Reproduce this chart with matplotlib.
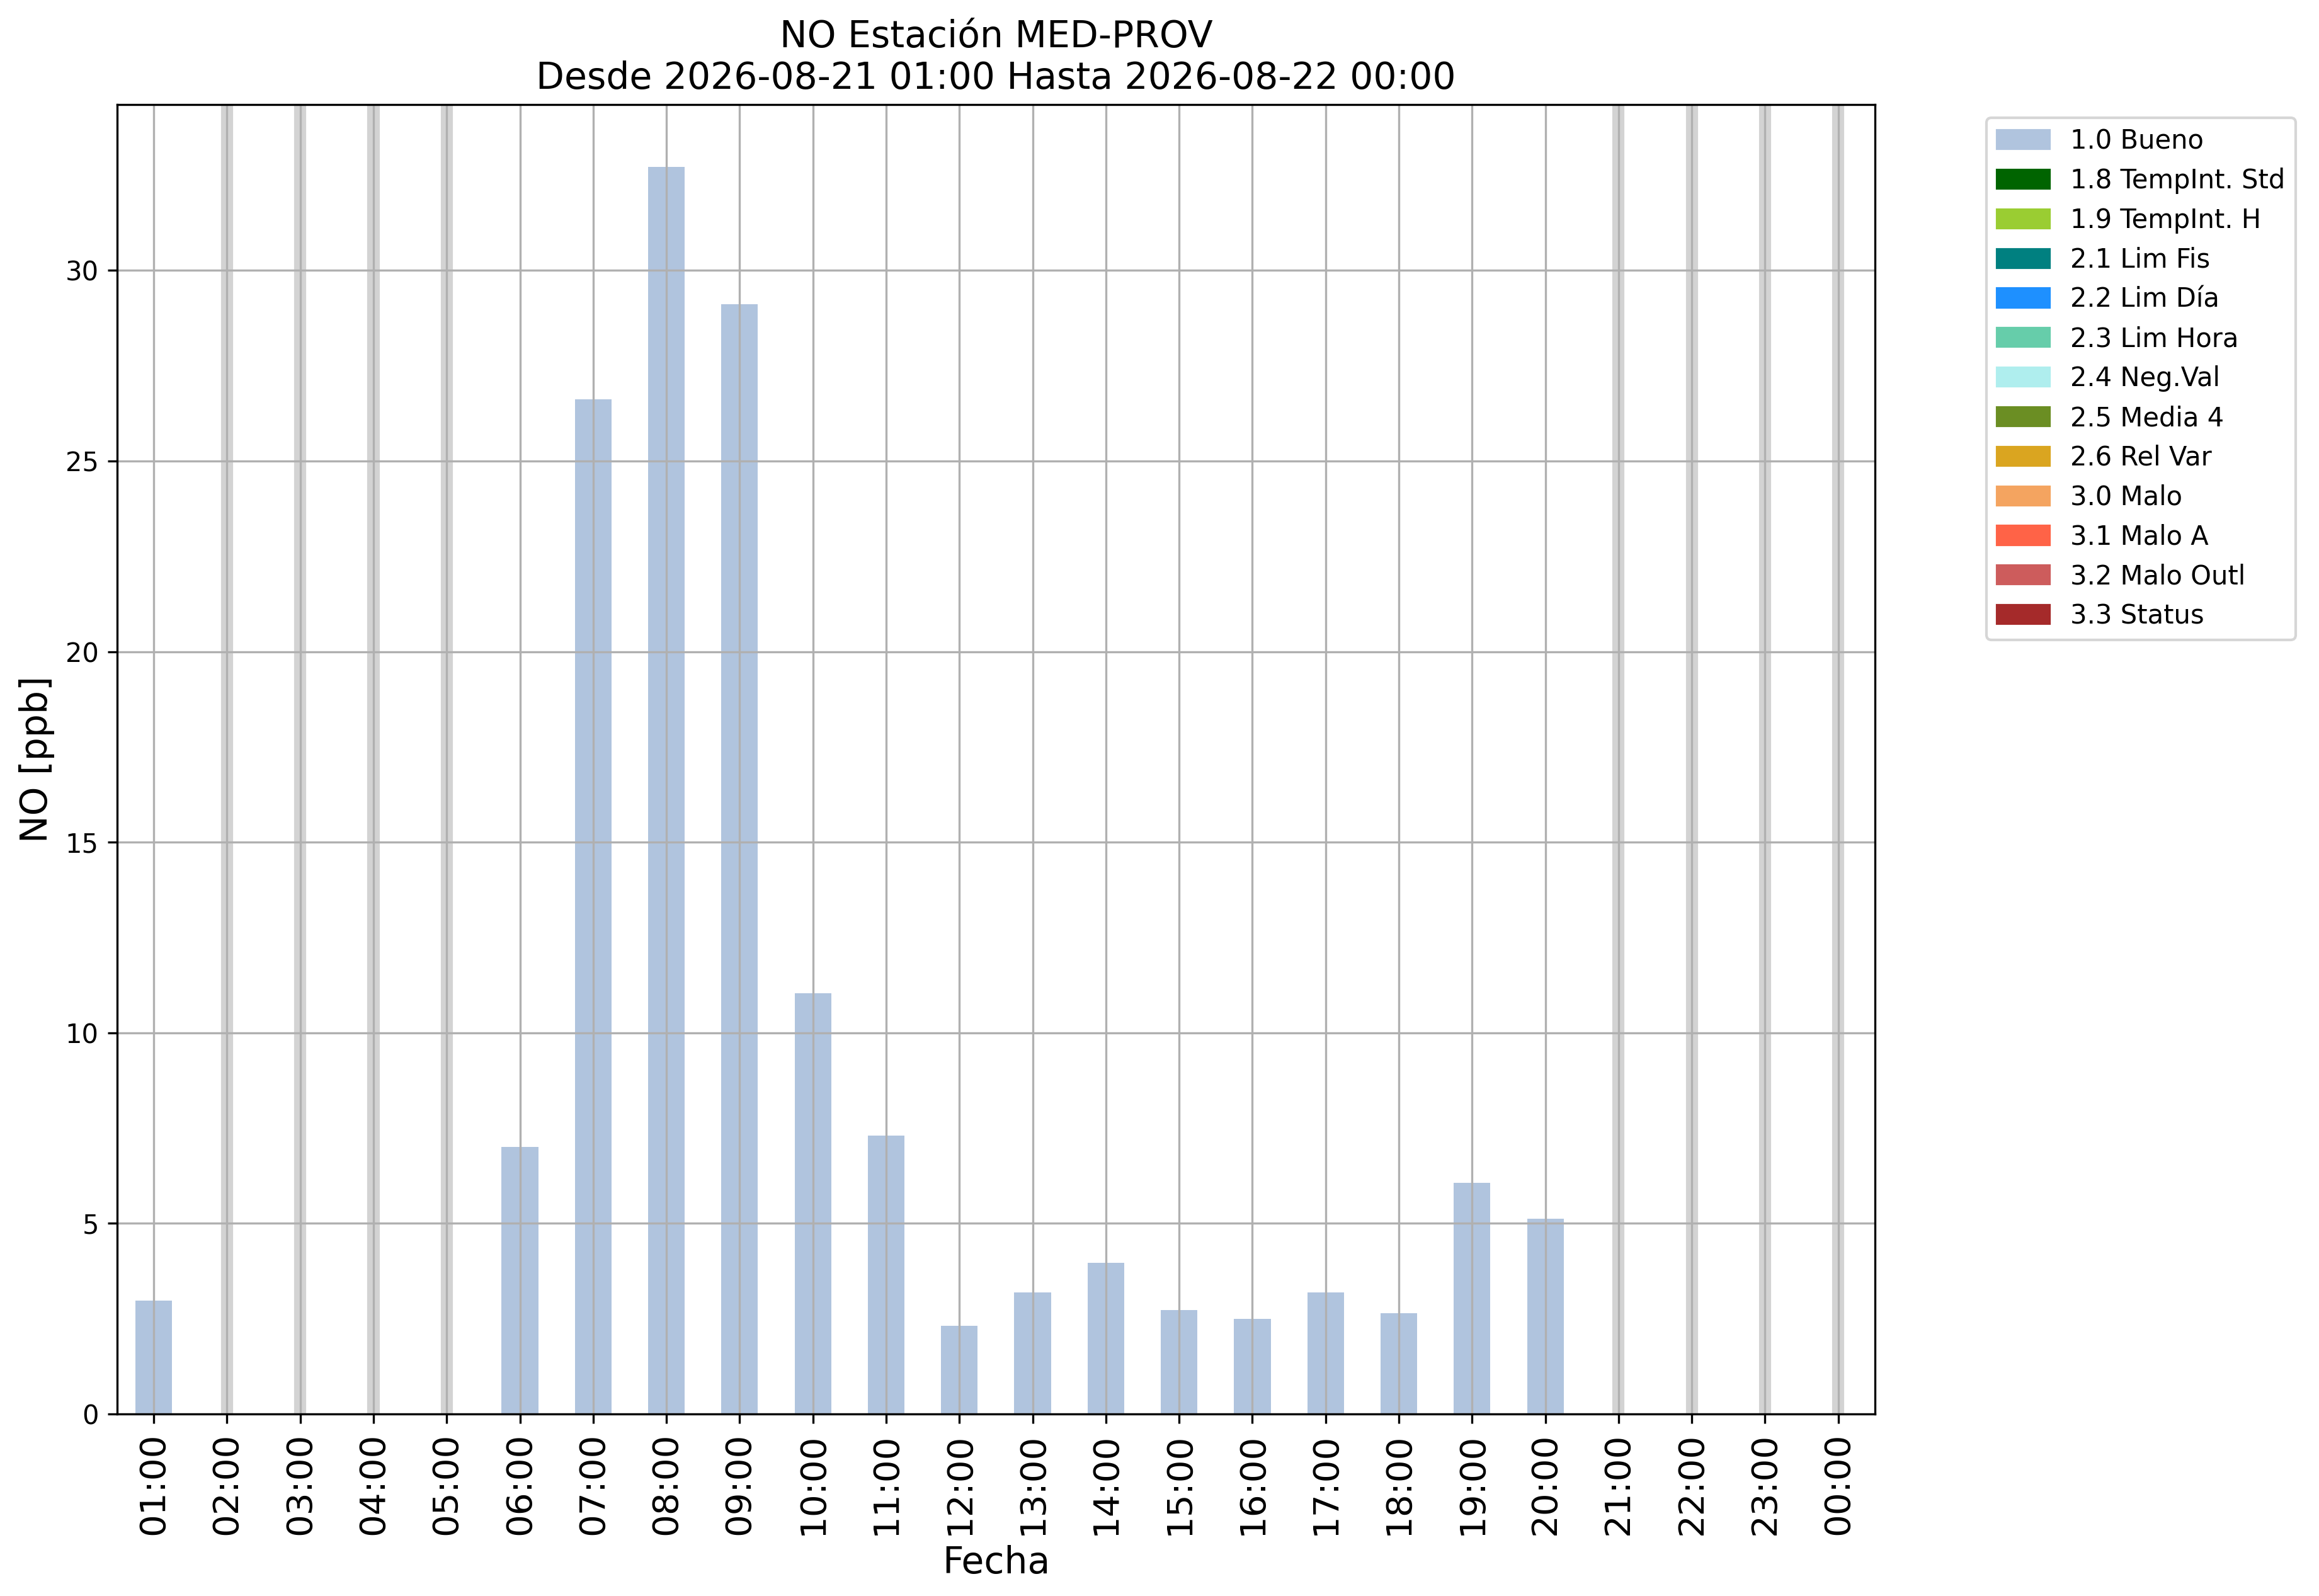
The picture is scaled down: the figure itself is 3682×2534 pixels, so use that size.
import numpy as np
import matplotlib
matplotlib.use("Agg")
import matplotlib.pyplot as plt
import matplotlib.patches as mpatches

################################################################################
# Data
################################################################################

horas = ["01:00", "02:00", "03:00", "04:00", "05:00", "06:00", "07:00", "08:00",
         "09:00", "10:00", "11:00", "12:00", "13:00", "14:00", "15:00", "16:00",
         "17:00", "18:00", "19:00", "20:00", "21:00", "22:00", "23:00", "00:00"]

# NO values [ppb], NaN = missing hour
valores_no = [2.97, np.nan, np.nan, np.nan, np.nan, 7.0, 26.62, 32.72,
              29.12, 11.04, 7.31, 2.31, 3.19, 3.96, 2.73, 2.49,
              3.19, 2.64, 6.06, 5.13, np.nan, np.nan, np.nan, np.nan]

etiquetas_flag = ["1.0 Bueno", "1.8 TempInt. Std", "1.9 TempInt. H", "2.1 Lim Fis",
                  "2.2 Lim Día", "2.3 Lim Hora", "2.4 Neg.Val", "2.5 Media 4",
                  "2.6 Rel Var", "3.0 Malo", "3.1 Malo A", "3.2 Malo Outl", "3.3 Status"]

colores_flag = ["lightsteelblue", "darkgreen", "yellowgreen", "teal", "dodgerblue",
                "mediumaquamarine", "paleturquoise", "olivedrab", "goldenrod",
                "sandybrown", "tomato", "indianred", "brown"]

################################################################################
# Plot
################################################################################

fig = plt.figure(figsize=(3682 / 300, 2534 / 300), dpi=300)
ax = fig.add_axes([0.0505, 0.1140, 0.7580, 0.8206])

x = np.arange(len(horas))
y = np.array(valores_no, dtype=float)

# missing hours marked with a thin gray band
for xi, yi in zip(x, y):
    if np.isnan(yi):
        ax.axvspan(xi - 0.065, xi + 0.065, color="lightgray", zorder=1)

ax.bar(x, np.nan_to_num(y), width=0.5, color=colores_flag[0], zorder=1)

ax.set_xlim(-0.5, len(horas) - 0.5)
ax.set_ylim(0, np.nanmax(y) * 1.05)
ax.set_xticks(x)
ax.set_xticklabels(horas, rotation=90, fontsize=13.5)
ax.tick_params(axis="y", labelsize=10)
ax.grid(True)

ax.set_title("NO Estación MED-PROV\nDesde 2026-08-21 01:00 Hasta 2026-08-22 00:00", fontsize=14)
ax.set_xlabel("Fecha", fontsize=14)
ax.set_ylabel("NO [ppb]", fontsize=14)

handles = [mpatches.Patch(color=c, label=l) for c, l in zip(colores_flag, etiquetas_flag)]
ax.legend(handles=handles, bbox_to_anchor=(1.056, 1), loc="upper left", fontsize=10)

fig.savefig("out.png", dpi=300)
plt.close()
